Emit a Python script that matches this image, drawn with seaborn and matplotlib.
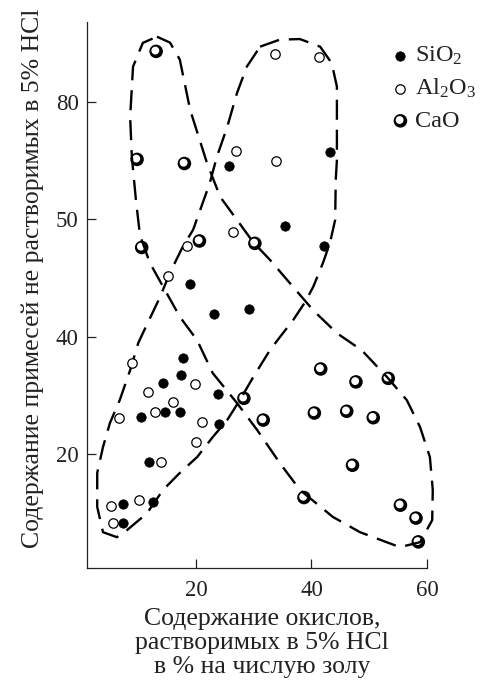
import numpy as np
import pandas as pd
import matplotlib
matplotlib.use("Agg")
import matplotlib.pyplot as plt
from matplotlib.path import Path
from matplotlib.markers import MarkerStyle
import seaborn as sns

# SiO2 (filled dots)
sio2_x = [43.2, 25.8, 35.5, 42.2, 19.0, 23.2, 29.2, 17.8, 17.35, 14.3, 23.8, 10.5, 14.6, 17.2, 24.0, 11.9, 7.4, 12.5, 7.4]
sio2_y = [71.4, 69.0, 58.9, 55.5, 49.0, 43.9, 44.7, 36.3, 33.5, 32.1, 30.2, 26.4, 27.2, 27.2, 25.1, 18.6, 11.5, 11.9, 8.2]

# Al2O3 (open circles)
al2o3_x = [33.7, 41.35, 27.0, 33.9, 18.5, 26.35, 15.2, 9.0, 11.7, 19.8, 16.1, 6.7, 12.9, 21.0, 19.95, 13.9, 5.3, 10.2, 5.7]
al2o3_y = [88.1, 87.6, 71.6, 69.9, 55.5, 57.8, 50.4, 35.6, 30.5, 31.9, 28.9, 26.2, 27.2, 25.5, 22.1, 18.7, 11.2, 12.2, 8.2]

# CaO (thick rings)
cao_x = [13.1, 9.8, 18.0, 10.6, 20.6, 30.2, 28.3, 31.65, 41.6, 47.7, 53.3, 40.5, 46.1, 50.7, 47.1, 38.7, 55.4, 58.1, 58.5]
cao_y = [88.6, 70.2, 69.5, 55.2, 56.3, 55.9, 29.5, 25.8, 34.5, 32.3, 32.9, 27.0, 27.3, 26.2, 18.1, 12.6, 11.3, 9.1, 5.05]

# dashed outline around the CaO field
loop_a_x = [13.25, 15.5, 17.2, 19.0, 21.9, 24.2, 27.1, 29.9, 32.8, 36.8, 40.3, 44.4, 48.7, 53.2, 56.5, 58.8,
            60.5, 61.0, 60.9, 58.8, 55.3, 48.4, 43.7, 38.0, 34.5, 30.6, 27.1, 22.9, 20.2, 17.2, 14.6, 12.0,
            10.3, 9.6, 8.9, 8.6, 9.1, 10.8]
loop_a_y = [91.1, 90.1, 87.2, 78.6, 69.6, 63.8, 59.9, 56.1, 53.1, 48.5, 44.5, 40.6, 37.7, 33.0, 29.2, 24.6,
            19.5, 13.9, 8.75, 5.0, 4.15, 6.7, 9.3, 13.9, 18.5, 24.1, 28.7, 33.8, 39.4, 43.4, 48.0, 52.6,
            57.3, 63.3, 70.6, 77.4, 86.0, 90.05]

# dashed outline around the SiO2 / Al2O3 field
loop_b_x = [31.1, 34.5, 38.0, 41.5, 43.5, 44.4, 44.4, 44.4, 44.2, 44.1, 43.2, 42.0, 40.3, 38.9, 36.8, 34.5,
            32.8, 29.9, 27.6, 25.4, 22.9, 20.2, 17.2, 14.3, 11.5, 8.05, 6.3, 3.9, 2.9, 2.9, 3.9, 5.1,
            6.8, 8.6, 10.0, 10.8, 13.8, 15.5, 17.7, 19.5, 22.4, 23.6, 25.4, 27.1, 28.8]
loop_b_y = [89.4, 90.6, 90.7, 89.4, 86.6, 82.6, 77.4, 70.1, 66.7, 59.9, 56.0, 52.6, 48.5, 45.9, 42.8, 39.9,
            37.7, 33.1, 29.2, 25.8, 22.9, 19.5, 16.8, 13.9, 9.9, 7.05, 5.85, 6.7, 11.0, 16.8, 21.2, 25.3,
            29.2, 34.3, 38.9, 40.6, 46.8, 50.9, 55.3, 58.2, 66.2, 70.6, 75.7, 81.5, 86.0]

y_ticks = [20, 40, 60, 80]
y_tick_labels = ["20", "40", "50", "80"]
x_ticks = [20, 40, 60]


def ring_marker():
    # ring whose hole is shifted up-left, so the stroke is heavier at lower right
    outer = Path.unit_circle()
    inner_v = outer.vertices * [-1, 1] * 0.58 + [-0.12, 0.12]
    inner = Path(inner_v, outer.codes)
    return MarkerStyle(Path.make_compound_path(outer, inner))


def main():
    sns.set_style("ticks")
    plt.rcParams["font.family"] = ["Liberation Serif", "DejaVu Serif"]
    plt.rcParams["mathtext.fontset"] = "custom"
    plt.rcParams["mathtext.rm"] = "Liberation Serif"
    plt.rcParams["mathtext.it"] = "Liberation Serif:italic"

    fig = plt.figure(figsize=(4.86, 6.8), dpi=100)
    ax = fig.add_axes([0.179, 0.1647, 0.6996, 0.8029])

    loops = [(loop_a_x, loop_a_y), (loop_b_x, loop_b_y)]
    for lx, ly in loops:
        ax.plot(lx + lx[:1], ly + ly[:1], color="black", lw=1.7, dashes=(8.5, 4.2),
                solid_capstyle="butt", dash_capstyle="butt", clip_on=False, zorder=1)

    sio2 = pd.DataFrame({"x": sio2_x, "y": sio2_y})
    al2o3 = pd.DataFrame({"x": al2o3_x, "y": al2o3_y})
    cao = pd.DataFrame({"x": cao_x, "y": cao_y})

    sns.scatterplot(data=sio2, x="x", y="y", ax=ax, marker="o", s=46, color="black",
                    edgecolor="black", linewidth=0.5, label=r"SiO$_2$", zorder=3, clip_on=False)
    sns.scatterplot(data=al2o3, x="x", y="y", ax=ax, marker="o", s=46, color="white",
                    edgecolor="black", linewidth=0.9, label=r"Al$_2$O$_3$", zorder=3, clip_on=False)
    sns.scatterplot(data=cao, x="x", y="y", ax=ax, marker=ring_marker(), s=95, color="black",
                    edgecolor="none", linewidth=0, label="CaO", zorder=3, clip_on=False)

    ax.set_xlim(1.13, 60)
    ax.set_ylim(0.6, 93.6)
    ax.set_xticks(x_ticks)
    ax.set_yticks(y_ticks)
    ax.set_yticklabels(y_tick_labels)
    ax.tick_params(direction="in", length=6.5, width=0.9, labelsize=16.5, colors="#222222")
    ax.tick_params(axis="x", pad=8.5)
    ax.tick_params(axis="y", pad=6)
    for sp in ["left", "bottom"]:
        ax.spines[sp].set_linewidth(0.9)
        ax.spines[sp].set_color("#222222")
    sns.despine(ax=ax)

    ax.set_xlabel("Содержание окислов,\nрастворимых в 5% HCl\nв % на числую золу",
                  fontsize=18.5, linespacing=1.1, color="#222222")
    ax.xaxis.set_label_coords(0.515, -0.074)
    ax.set_ylabel("Содержание примесей не растворимых в 5% HCl", fontsize=18.5, color="#222222")
    ax.yaxis.set_label_coords(-0.125, 0.53)

    leg = ax.legend(loc="upper left", bbox_to_anchor=(381 / 486, 1 - 33 / 680),
                    bbox_transform=fig.transFigure, frameon=False, fontsize=17.5,
                    handlelength=0.6, handletextpad=0.3, labelspacing=0.4, borderpad=0)
    for t in leg.get_texts():
        t.set_color("#222222")

    fig.savefig("out.png", dpi=100)


if __name__ == "__main__":
    main()
